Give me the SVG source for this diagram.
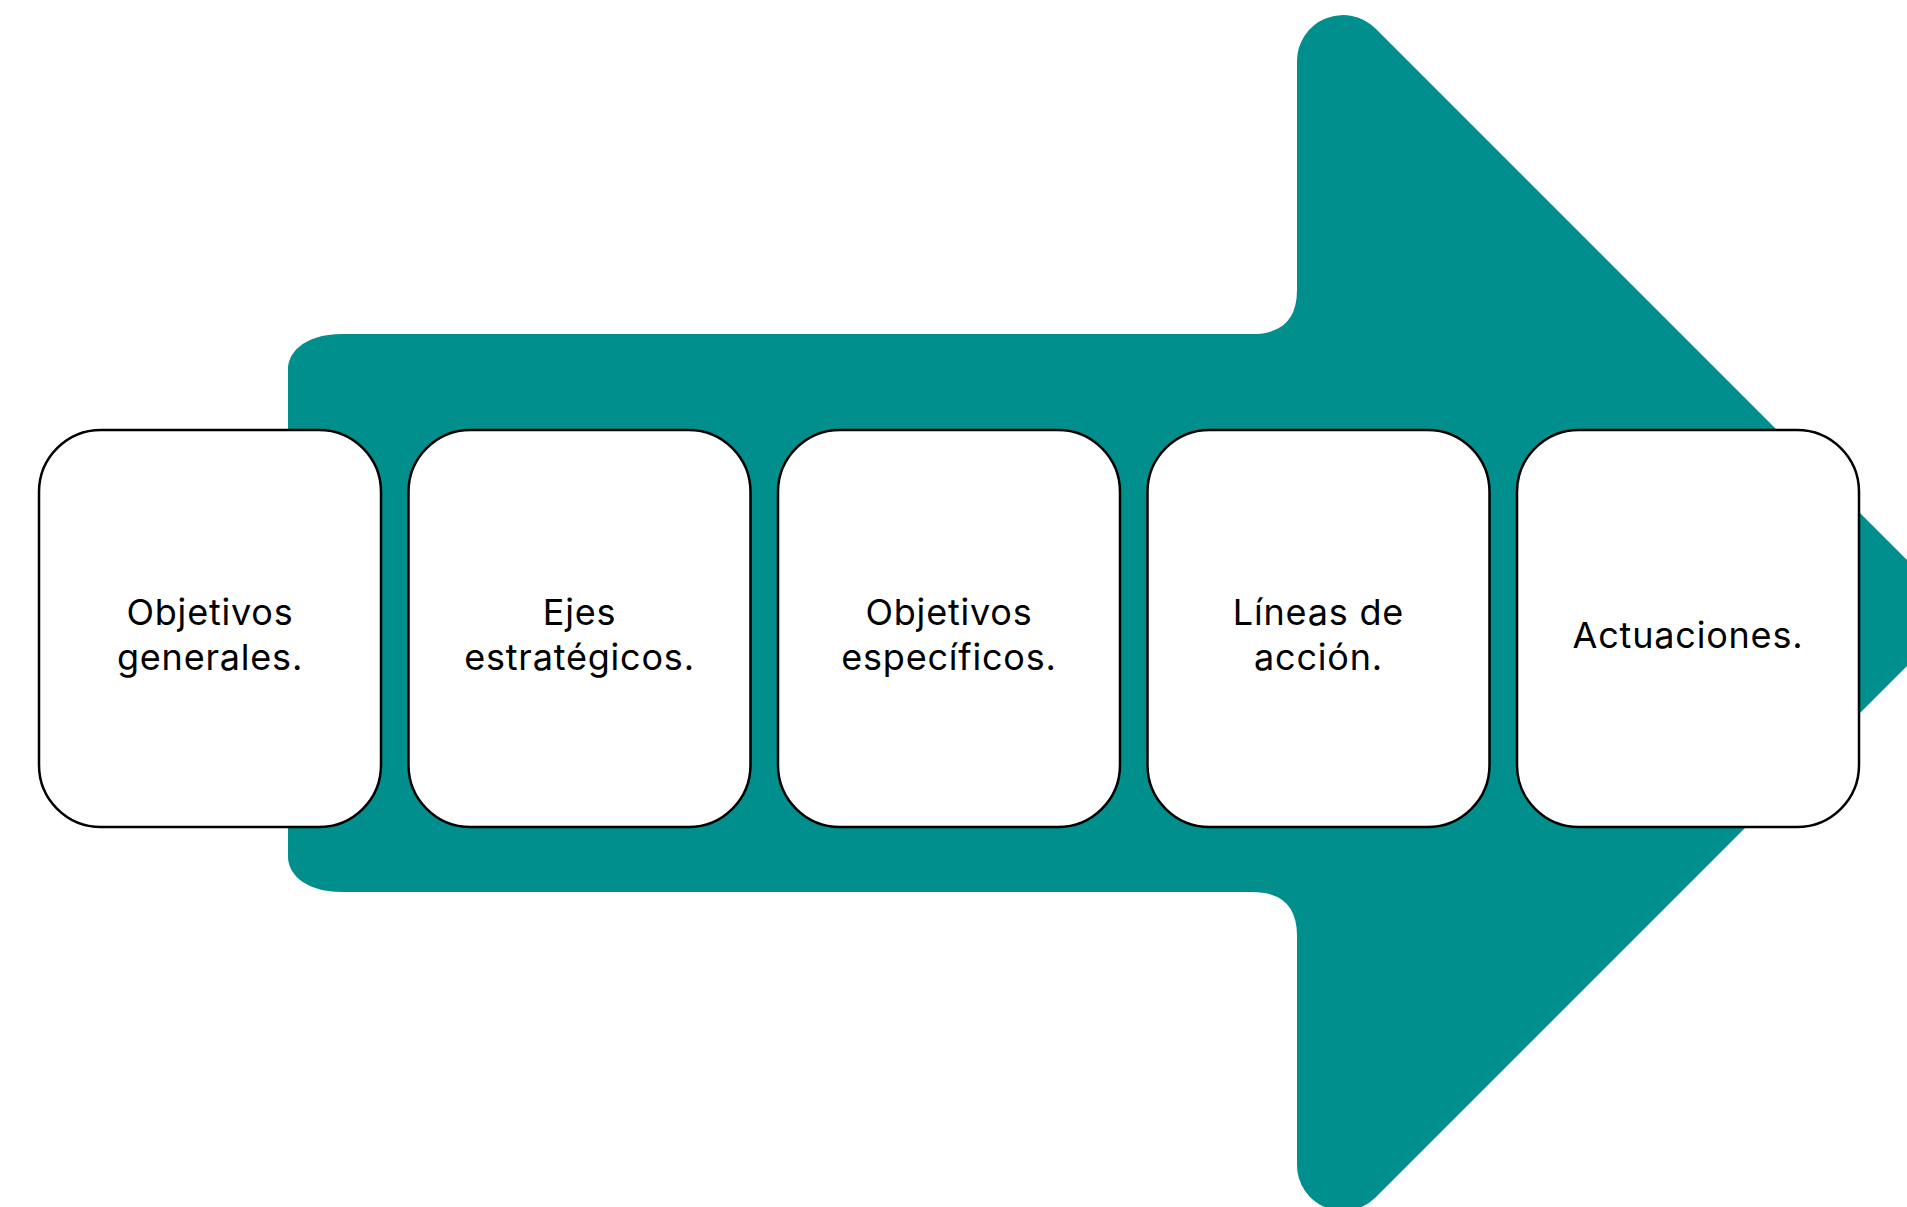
<svg xmlns="http://www.w3.org/2000/svg" width="1907" height="1207" viewBox="0 0 1907 1207">
  <style>
    .box { fill: #ffffff; stroke: #000000; stroke-width: 2.5; }
    .lbl { font-family: Inter, "Liberation Sans", sans-serif; font-size: 36px; letter-spacing: 0.8px; fill: #000000; text-anchor: middle; }
  </style>
  <rect width="1907" height="1207" fill="#ffffff"/>
  <g id="arrow">
    <path fill="#008F8C" d="M 343 334 L 1252 334 Q 1297 334 1297 290 L 1297 61 A 46 46 0 0 1 1375.5 28.5 L 1960 613 L 1375.5 1197.5 A 46 46 0 0 1 1297 1165 L 1297 936 Q 1297 892 1252 892 L 343 892 C 300 892 288 870 288 857 L 288 369 C 288 356 300 334 343 334 Z"/>
  </g>
  <g id="connectors"></g>
  <g id="node1">
    <rect class="box" x="39" y="430" width="342" height="397" rx="62" ry="62"/>
    <text class="lbl" x="210" y="625">Objetivos</text>
    <text class="lbl" x="210" y="670">generales.</text>
  </g>
  <g id="node2">
    <rect class="box" x="408.5" y="430" width="342" height="397" rx="62" ry="62"/>
    <text class="lbl" x="579.5" y="625">Ejes</text>
    <text class="lbl" x="579.5" y="670">estratégicos.</text>
  </g>
  <g id="node3">
    <rect class="box" x="778" y="430" width="342" height="397" rx="62" ry="62"/>
    <text class="lbl" x="949" y="625">Objetivos</text>
    <text class="lbl" x="949" y="670">específicos.</text>
  </g>
  <g id="node4">
    <rect class="box" x="1147.5" y="430" width="342" height="397" rx="62" ry="62"/>
    <text class="lbl" x="1318.5" y="625">Líneas de</text>
    <text class="lbl" x="1318.5" y="670">acción.</text>
  </g>
  <g id="node5">
    <rect class="box" x="1517" y="430" width="342" height="397" rx="62" ry="62"/>
    <text class="lbl" x="1688" y="648">Actuaciones.</text>
  </g>
</svg>
